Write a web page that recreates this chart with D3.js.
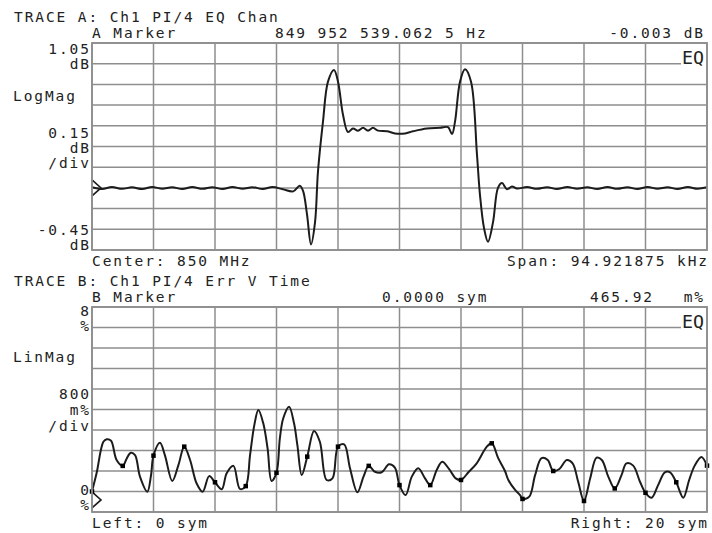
<!DOCTYPE html>
<html><head><meta charset="utf-8">
<script src="https://cdn.jsdelivr.net/npm/d3@7"></script>
<style>
html,body{margin:0;padding:0;background:#fff;}
svg text{font-family:"DejaVu Sans Mono",monospace;fill:#222;}
</style></head>
<body>
<svg id="c" width="712" height="533"></svg>
<script>
// ---------- DATA ----------
// Trace A: EQ channel, frequency offset from 850 MHz (kHz) vs LogMag (dB)
const freqA = [-47.46,-45.9,-44.4,-42.8,-41.3,-39.7,-38.2,-36.6,-35.1,-33.5,-32.0,-30.4,-28.9,-27.3,-25.8,-24.2,-22.7,-21.1,-19.6,-18.0,
  -16.4,-15.4,-14.9,-14.28,-13.66,-13.04,-12.58,-11.81,-11.04,-10.11,-9.49,-8.72,-7.95,-7.18,-6.40,-5.63,-4.86,-4.09,-3.32,-1.93,-0.69,
  0.85,2.08,4.24,6.25,7.49,8.10,8.57,9.34,10.11,11.04,11.96,12.42,13.04,13.66,14.43,15.20,15.82,16.59,17.36,18.14,
  19.7,21.2,22.8,24.3,25.9,27.4,29.0,30.5,32.1,33.6,35.2,36.7,38.3,39.8,41.4,42.9,44.5,46.0,47.46];
const magA = [0.005,-0.008,0.006,-0.007,0.004,-0.008,0.006,-0.006,0.005,-0.008,0.006,-0.007,0.005,-0.008,0.006,-0.006,0.005,-0.008,0.006,-0.01,
  -0.025,0.015,-0.02,-0.19,-0.41,-0.25,0.12,0.48,0.77,0.855,0.77,0.53,0.405,0.43,0.415,0.435,0.415,0.435,0.415,0.41,0.395,
  0.395,0.41,0.43,0.435,0.44,0.39,0.48,0.77,0.86,0.77,0.24,-0.05,-0.29,-0.39,-0.25,0.0,0.035,-0.01,0.01,-0.005,
  0.006,-0.007,0.005,-0.008,0.006,-0.006,0.005,-0.008,0.006,-0.007,0.005,-0.008,0.006,-0.006,0.005,-0.008,0.006,-0.006,0.004];

// Trace B: error vector vs time (symbols) in %
const symB = [0,0.15,0.37,0.48,0.62,0.80,1,1.13,1.26,1.40,1.56,1.80,1.92,2,2.21,2.37,2.61,2.81,3,3.19,3.40,3.60,3.81,4,4.22,4.38,4.6,4.81,5,
  5.14,5.28,5.41,5.57,5.71,5.84,6,6.11,6.22,6.41,6.57,6.68,6.82,7,7.22,7.41,7.63,7.82,8,8.2,8.39,8.63,8.83,9,9.20,9.42,9.66,9.85,10,
  10.2,10.40,10.61,10.83,11,11.21,11.39,11.61,11.83,12,12.24,12.51,12.84,13,13.21,13.43,13.54,13.76,13.92,14,14.22,14.41,14.62,14.82,15,
  15.2,15.44,15.63,15.81,16,16.2,16.41,16.58,16.79,17,17.22,17.38,17.60,17.82,18,18.2,18.41,18.63,18.8,19,19.23,19.42,19.6,19.82,20];
const errB = [0.8,1.52,2.74,2.84,2.78,2.03,1.80,2.09,2.31,2.22,1.38,0.79,1.44,2.2,2.70,2.22,1.21,1.83,2.55,2.03,1.12,0.79,1.40,1.16,0.89,1.51,1.80,0.90,1.01,
  2.22,3.40,3.98,3.46,2.48,1.21,1.53,2.88,3.66,4.11,3.46,2.6,1.44,2.16,3.16,2.74,1.25,1.31,2.55,2.64,1.71,0.77,1.38,1.80,1.57,1.55,1.86,1.73,1.05,
  0.66,1.38,1.71,1.31,1.05,1.64,1.96,1.68,1.31,1.25,1.55,1.90,2.55,2.68,2.10,1.60,1.25,0.86,0.66,0.51,0.60,1.44,2.10,2.03,1.60,
  1.68,2.03,1.90,1.18,0.43,1.31,2.12,2.03,1.38,0.92,1.44,1.90,1.81,1.18,0.75,0.56,1.05,1.55,1.55,1.16,0.56,1.25,1.81,2.15,1.81];

// Axis ranges / reference levels
const xDomainA = [-47.4609375, 47.4609375];
const yDomainA = [-0.45, 1.05];
const refA = 0;
const xDomainB = [0, 20];
const yDomainB = [0, 8];
const refB = 0.47;

// Texts
const headerA = {title:"TRACE A: Ch1 PI/4 EQ Chan", marker:"A Marker", mval:"849 952 539.062 5 Hz", yval:"-0.003 dB",
  top:["1.05","dB"], mid:["0.15","dB","/div"], bot:["-0.45","dB"], fmt:"LogMag", left:"Center: 850 MHz", right:"Span: 94.921875 kHz"};
const headerB = {title:"TRACE B: Ch1 PI/4 Err V Time", marker:"B Marker", mval:"0.0000 sym", yval:"465.92", yunit:"m%",
  top:["8","%"], mid:["800","m%","/div"], bot:["0","%"], fmt:"LinMag", left:"Left: 0 sym", right:"Right: 20 sym"};

// ---------- DRAW ----------
const svg = d3.select("#c");
const L = 92, R = 707;
const FS = 14.5, LS = 1.9;
const gridCol = "#8e8e8e", traceCol = "#1c1c1c";

function txt(x, y, s, anchor, size, ls) {
  const sp = ls ?? LS;
  return svg.append("text").attr("x", anchor === "end" ? x + sp : x).attr("y", y)
    .attr("text-anchor", anchor || "start")
    .attr("font-size", size || FS)
    .attr("letter-spacing", sp)
    .text(s);
}

function panel(x, y, top, bot, cfg) {
  const g = svg.append("g");
  const xv = d3.range(11).map(i => x.domain()[0] + i * (x.domain()[1] - x.domain()[0]) / 10);
  const yv = d3.range(11).map(i => y.domain()[0] + i * (y.domain()[1] - y.domain()[0]) / 10);
  g.selectAll(".gx").data(xv).join("line")
    .attr("x1", d => x(d)).attr("x2", d => x(d)).attr("y1", top).attr("y2", bot)
    .attr("stroke", gridCol).attr("stroke-width", 1.5);
  g.selectAll(".gy").data(yv).join("line")
    .attr("x1", L).attr("x2", R).attr("y1", d => y(d)).attr("y2", d => y(d))
    .attr("stroke", gridCol).attr("stroke-width", 1.5);
  const eqBase = y(yv[9]);
  svg.append("rect").attr("x", 681).attr("y", top + 1.5).attr("width", 25).attr("height", eqBase - top).attr("fill", "#fff");
  svg.append("text").attr("x", 682).attr("y", eqBase).attr("font-size", 18.5).attr("textLength", 22)
    .attr("lengthAdjust", "spacingAndGlyphs").text("EQ");
  const ry = y(cfg.ref);
  svg.append("path").attr("d", `M${L},${ry - 8} L${L + 9},${ry} L${L},${ry + 8}`)
    .attr("fill", "none").attr("stroke", traceCol).attr("stroke-width", 1.6);
}

// ---- Trace A ----
const xA = d3.scaleLinear().domain(xDomainA).range([L, R]);
const yA = d3.scaleLinear().domain(yDomainA).range([250, 43]);
panel(xA, yA, 43, 250, {ref: refA});
const lineA = d3.line().x(d => xA(d[0])).y(d => yA(d[1])).curve(d3.curveCatmullRom.alpha(0.5));
svg.append("path").datum(freqA.map((f, i) => [f, magA[i]]))
  .attr("d", lineA).attr("fill", "none").attr("stroke", traceCol).attr("stroke-width", 2);

// ---- Trace B ----
const xB = d3.scaleLinear().domain(xDomainB).range([L, R]);
const yB = d3.scaleLinear().domain(yDomainB).range([512, 307]);
panel(xB, yB, 307, 512, {ref: refB});
const ptsB = symB.map((s, i) => [s, errB[i]]);
const lineB = d3.line().x(d => xB(d[0])).y(d => yB(d[1])).curve(d3.curveCatmullRom.alpha(0.5));
svg.append("path").datum(ptsB).attr("d", lineB).attr("fill", "none").attr("stroke", traceCol).attr("stroke-width", 2);
svg.selectAll(".dot").data(ptsB.filter(d => Number.isInteger(d[0]))).join("rect")
  .attr("x", d => xB(d[0]) - 2.25).attr("y", d => yB(d[1]) - 2.25).attr("width", 4.5).attr("height", 4.5).attr("fill", "#000");

// borders
[[43, 250], [307, 512]].forEach(([t, b]) => {
  svg.append("rect").attr("x", L).attr("y", t).attr("width", R - L).attr("height", b - t)
    .attr("fill", "none").attr("stroke", gridCol).attr("stroke-width", 1.8);
});

// ---- Texts A ----
txt(14, 21.5, headerA.title);
txt(92, 38, headerA.marker);
txt(275, 38, headerA.mval);
txt(703, 38, headerA.yval, "end");
txt(89, 54, headerA.top[0], "end");
txt(89, 69, headerA.top[1], "end");
txt(13, 101, headerA.fmt);
txt(89, 138, headerA.mid[0], "end");
txt(89, 153, headerA.mid[1], "end");
txt(89, 168, headerA.mid[2], "end");
txt(89, 235, headerA.bot[0], "end");
txt(89, 250, headerA.bot[1], "end");
txt(92, 266, headerA.left);
txt(707, 266, headerA.right, "end");

// ---- Texts B ----
txt(14, 285.5, headerB.title);
txt(92, 302, headerB.marker);
txt(382, 302, headerB.mval);
txt(652, 302, headerB.yval, "end");
txt(703, 302, headerB.yunit, "end");
txt(89, 316, headerB.top[0], "end");
txt(89, 331, headerB.top[1], "end");
txt(13, 362, headerB.fmt);
txt(89, 399, headerB.mid[0], "end");
txt(89, 415, headerB.mid[1], "end");
txt(89, 431, headerB.mid[2], "end");
txt(89, 495, headerB.bot[0], "end");
txt(89, 510, headerB.bot[1], "end");
txt(92, 528, headerB.left);
txt(707, 528, headerB.right, "end");
</script>
</body></html>
